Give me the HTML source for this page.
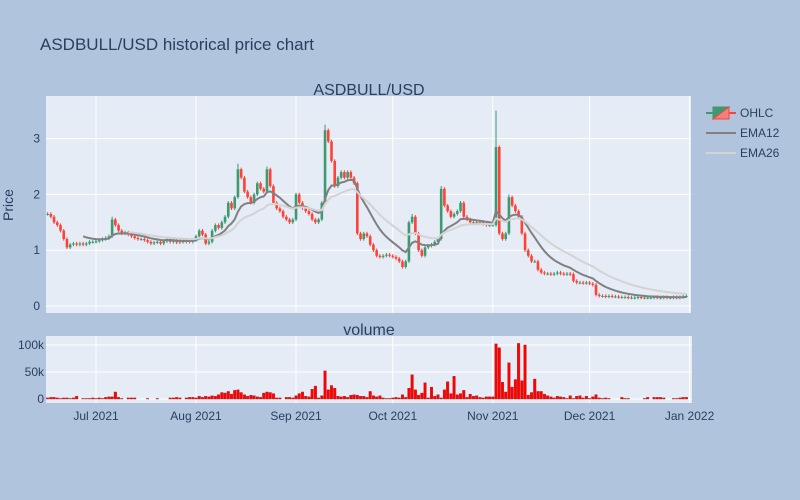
<!DOCTYPE html>
<html><head><meta charset="utf-8"><style>
html,body{margin:0;padding:0;background:#b0c4de;}
svg{display:block;font-family:"Liberation Sans",sans-serif;}
</style></head><body>
<svg id="chart" width="800" height="500" xmlns="http://www.w3.org/2000/svg">
<rect x="0" y="0" width="800" height="500" fill="#b0c4de"/>
<text x="40" y="50" font-size="17" fill="#2a3f5f">ASDBULL/USD historical price chart</text>
<text x="369" y="95" font-size="16" fill="#2a3f5f" text-anchor="middle">ASDBULL/USD</text>
<text x="369" y="335" font-size="16" fill="#2a3f5f" text-anchor="middle">volume</text>
<rect x="46" y="96" width="645" height="217" fill="#e5ecf6"/>
<rect x="46" y="336" width="646" height="67" fill="#e5ecf6"/>
<g id="grid"></g>
<g id="marks"></g>
<g id="axes" font-size="12" fill="#2a3f5f"></g>
<text transform="translate(13,205) rotate(-90)" font-size="14" fill="#2a3f5f" text-anchor="middle">Price</text>
<g>
  <g>
    <line x1="706" y1="113" x2="736" y2="113" stroke="#3D9970" stroke-width="2"/>
    <line x1="721" y1="113" x2="736" y2="113" stroke="#FF4136" stroke-width="2"/>
    <polygon points="713,107 729,107 713,119" fill="#3D9970" stroke="#3D9970"/>
    <polygon points="729,107 729,119 713,119" fill="#f08080" stroke="#FF4136"/>
    <text x="740" y="117" font-size="12" fill="#2a3f5f">OHLC</text>
  </g>
  <g>
    <line x1="706" y1="133" x2="736" y2="133" stroke="#808080" stroke-width="2"/>
    <text x="740" y="137" font-size="12" fill="#2a3f5f">EMA12</text>
  </g>
  <g>
    <line x1="706" y1="153" x2="736" y2="153" stroke="#d3d3d3" stroke-width="2"/>
    <text x="740" y="157" font-size="12" fill="#2a3f5f">EMA26</text>
  </g>
</g>
</svg>
<script>
const startDate = "2021-06-16";
const closes = [
1.65,1.6,1.5,1.45,1.35,1.2,1.05,1.1,1.12,1.1,
1.12,1.1,1.12,1.15,1.15,1.16,1.18,1.2,1.22,1.25,
1.55,1.45,1.35,1.3,1.32,1.28,1.25,1.22,1.2,1.2,
1.18,1.15,1.12,1.14,1.15,1.12,1.16,1.2,1.15,1.18,
1.14,1.16,1.15,1.17,1.15,1.18,1.25,1.35,1.28,1.12,
1.15,1.35,1.45,1.4,1.5,1.6,1.85,1.75,1.95,2.45,
2.3,2.05,1.95,1.85,2.0,2.2,2.1,2.05,2.45,2.15,
1.85,1.75,1.7,1.6,1.55,1.5,1.55,2.0,1.85,1.75,
1.7,1.65,1.55,1.5,1.55,1.85,3.15,2.95,2.6,2.15,
2.3,2.4,2.3,2.4,2.3,2.2,1.3,1.2,1.3,1.25,
1.1,1.0,0.9,0.88,0.9,0.92,0.9,0.88,0.85,0.8,
0.7,0.8,1.5,1.6,1.3,1.0,0.9,1.05,1.08,1.1,
1.15,1.2,2.1,1.8,1.7,1.6,1.65,1.7,1.85,1.6,
1.55,1.5,1.5,1.48,1.5,1.47,1.45,1.45,1.45,2.85,
1.3,1.2,1.3,1.95,1.8,1.7,1.6,1.3,1.0,0.9,
0.8,0.8,0.65,0.6,0.58,0.58,0.57,0.58,0.6,0.58,
0.57,0.58,0.57,0.45,0.42,0.42,0.41,0.42,0.40,0.38,
0.2,0.18,0.18,0.17,0.18,0.17,0.17,0.16,0.16,0.16,
0.15,0.15,0.15,0.16,0.15,0.15,0.15,0.15,0.16,0.15,
0.15,0.16,0.15,0.15,0.16,0.15,0.16,0.17,0.18];
const spikeHighs = {59:2.55,68:2.5,86:3.25,139:3.5,143:2.0,122:2.15,113:1.65,20:1.6};
const volumesK = [
2,3,3,2,1,2,2,1,2,5,
0,1,1,1,2,1,2,1,3,4,
4,13,3,1,0,2,2,2,0,0,
0,1,0,0,1,0,0,0,2,2,
3,2,0,2,3,3,2,5,3,5,
4,6,5,8,12,11,14,9,16,17,
12,8,5,7,6,4,3,11,13,12,
10,2,2,0,3,3,2,6,10,13,
5,4,18,24,2,6,52,17,25,20,
5,4,5,3,7,8,7,5,5,3,
14,6,4,6,2,1,1,2,3,2,
8,3,20,45,17,7,11,30,2,22,
5,8,2,17,32,10,42,8,10,16,
3,9,5,6,3,2,4,4,4,102,
95,31,13,67,22,36,103,34,100,7,
12,37,14,14,9,6,4,2,5,4,
3,1,6,1,5,6,2,5,1,4,
8,2,1,2,1,0,0,0,3,1,
1,0,0,0,0,1,3,0,3,3,
3,2,0,0,1,1,2,3,3];
const priceTicks = [0,1,2,3];
const volTicks = [0,50,100];
const volTickLabels = ["0","50k","100k"];
const xTickDates = ["2021-07-01","2021-08-01","2021-09-01","2021-10-01","2021-11-01","2021-12-01","2022-01-01"];
const xTickLabels = ["Jul 2021","Aug 2021","Sep 2021","Oct 2021","Nov 2021","Dec 2021","Jan 2022"];

const NS="http://www.w3.org/2000/svg";
const DAY=86400000, t0=Date.parse(startDate);
function dayIdx(s){return (Date.parse(s)-t0)/DAY;}
function xScale(d){return 96+(d-15)*3.226;}
function yPrice(p){return 306-p*55.8;}
function yVol(k){return 399-k*0.54;}
function mk(tag,attrs,parent){const e=document.createElementNS(NS,tag);for(const k in attrs)e.setAttribute(k,attrs[k]);parent.appendChild(e);return e;}
const grid=document.getElementById('grid'),marks=document.getElementById('marks'),axes=document.getElementById('axes');

// grid
priceTicks.forEach(p=>{
  const l=mk('line',{x1:46,x2:691,y1:yPrice(p),y2:yPrice(p),stroke:'#fff','stroke-width':1},grid);
  
  
  const t=mk('text',{x:40,y:yPrice(p)+4,'text-anchor':'end'},axes);t.textContent=p;
  
  
});
volTicks.forEach((v,i)=>{
  const l=mk('line',{x1:46,x2:692,y1:yVol(v),y2:yVol(v),stroke:'#fff','stroke-width':1},grid);
  
  
  const t=mk('text',{x:44,y:yVol(v)+4,'text-anchor':'end'},axes);t.textContent=volTickLabels[i];
  
  
});
xTickDates.forEach((s,i)=>{
  const x=xScale(dayIdx(s));
  const l1=mk('line',{x1:x,x2:x,y1:96,y2:313,stroke:'#fff','stroke-width':1},grid);
  
  
  const l2=mk('line',{x1:x,x2:x,y1:336,y2:403,stroke:'#fff','stroke-width':1},grid);
  
  
  const t=mk('text',{x:x,y:420,'text-anchor':'middle'},axes);t.textContent=xTickLabels[i];
  
  
});

// candles
closes.forEach((c,i)=>{
  const o=i>0?closes[i-1]:c;
  const top=Math.max(o,c),bot=Math.min(o,c);
  const hi=spikeHighs[i]!==undefined?spikeHighs[i]:top+0.03;
  const lo=Math.max(0,bot-0.03);
  const col=c>=o?'#3D9970':'#FF4136';
  const x=xScale(i);
  const g=mk('g',{},marks);
  
  
  mk('line',{x1:x,x2:x,y1:yPrice(hi),y2:yPrice(lo),stroke:col,'stroke-width':1},g);
  const h=Math.max(1,yPrice(bot)-yPrice(top));
  mk('rect',{x:x-1.3,y:yPrice(top),width:2.6,height:h,fill:col},g);
});

// EMA
function ema(arr,n){const a=2/(n+1);const out=[];let e=arr[0];arr.forEach((v,i)=>{e=i===0?v:a*v+(1-a)*e;out.push(i>=n-1?e:null);});return out;}
[[12,'#808080','ema12-line'],[26,'#d3d3d3','ema26-line']].forEach(([n,col,name])=>{
  const e=ema(closes,n);let d='';
  e.forEach((v,i)=>{if(v===null)return;d+=(d?'L':'M')+xScale(i).toFixed(1)+','+yPrice(v).toFixed(1);});
  const p=mk('path',{d:d,fill:'none',stroke:col,'stroke-width':2},marks);
  
  
});

// volume
volumesK.forEach((v,i)=>{
  const x=xScale(i);
  const r=mk('rect',{x:x-1.3,y:yVol(v),width:2.6,height:Math.max(0,399-yVol(v)),fill:'#ff0000',stroke:'#b22222','stroke-width':0.4},marks);
  
  
});
</script>
</body></html>
